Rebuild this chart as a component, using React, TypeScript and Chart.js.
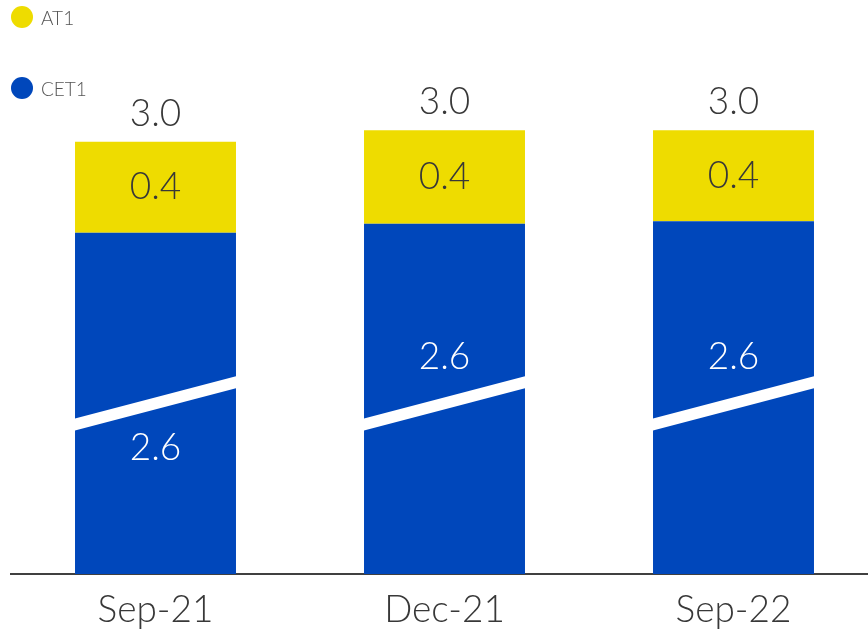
import React, { useEffect, useRef } from 'react';
import { Chart, registerables } from 'chart.js';

Chart.register(...registerables);

const categories = ['Sep-21', 'Dec-21', 'Sep-22'];
const cet1Values = [2.56, 2.6, 2.61];
const at1Values = [0.4, 0.41, 0.4];
const seriesNames = ['CET1', 'AT1'];
const seriesColors = ['#0047BB', '#EEDC00'];
// y-axis is broken: the visible scale starts above zero
const axisMin = 1.06;
const axisMax = 3.583;
const axisBreakValue = 1.81;
const cet1LabelSide = ['below', 'above', 'above'];

const TEXT_DARK = '#383838';
const FONT_FAMILY = 'Lato, "Open Sans", sans-serif';
const CANVAS_W = 878;
const VIEW_W = 868;
const VIEW_H = 631;

const labelsPlugin = {
  id: 'barLabels',
  afterDatasetsDraw(chart: any) {
    const ctx = chart.ctx;
    const yScale = chart.scales.y;
    const m0 = chart.getDatasetMeta(0);
    const m1 = chart.getDatasetMeta(1);
    const yc = yScale.getPixelForValue(axisBreakValue);
    ctx.save();
    m0.data.forEach((bar: any, i: number) => {
      const left = bar.x - bar.width / 2;
      const right = bar.x + bar.width / 2;
      const half = bar.width * 0.1313;
      const th = 6;
      // axis break band
      ctx.fillStyle = '#ffffff';
      ctx.beginPath();
      ctx.moveTo(left, yc + half - th);
      ctx.lineTo(right, yc - half - th);
      ctx.lineTo(right, yc - half + th);
      ctx.lineTo(left, yc + half + th);
      ctx.closePath();
      ctx.fill();

      ctx.textAlign = 'center';
      ctx.textBaseline = 'middle';
      ctx.font = `300 37px ${FONT_FAMILY}`;
      // CET1 label
      ctx.fillStyle = '#ffffff';
      const ly = cet1LabelSide[i] === 'below' ? yc + 45 : yc - 46;
      ctx.fillText(cet1Values[i].toFixed(1), bar.x, ly);
      // AT1 label
      const b1 = m1.data[i];
      ctx.fillStyle = TEXT_DARK;
      ctx.fillText(at1Values[i].toFixed(1), b1.x, (b1.y + b1.base) / 2);
      // total
      const total = cet1Values[i] + at1Values[i];
      ctx.fillText(total.toFixed(1), b1.x, b1.y - 28);
    });
    ctx.restore();
  },
};

export default function App() {
  const ref = useRef<HTMLCanvasElement | null>(null);
  useEffect(() => {
    if (!ref.current) return;
    const chart = new Chart(ref.current, {
      type: 'bar',
      data: {
        labels: categories,
        datasets: [
          {
            label: seriesNames[0],
            data: cet1Values,
            backgroundColor: seriesColors[0],
            borderWidth: 0,
            clip: 0,
          } as any,
          {
            label: seriesNames[1],
            data: at1Values,
            backgroundColor: seriesColors[1],
            borderWidth: 0,
            clip: 0,
          } as any,
        ],
      },
      options: {
        responsive: false,
        animation: false,
        devicePixelRatio: 1,
        layout: { padding: { left: 11, right: 0, top: 0, bottom: 0 } },
        datasets: { bar: { barPercentage: 0.557, categoryPercentage: 1 } },
        plugins: { legend: { display: false }, tooltip: { enabled: false } },
        scales: {
          x: {
            stacked: true,
            z: 1,
            grid: { display: false, drawTicks: false },
            border: { display: true, color: '#404040', width: 2 },
            ticks: {
              color: TEXT_DARK,
              padding: 14,
              font: { family: FONT_FAMILY, size: 37, weight: '300' as any },
            },
            afterFit: (s: any) => {
              s.height = 57;
            },
          },
          y: {
            stacked: true,
            display: false,
            min: axisMin,
            max: axisMax,
          },
        },
      },
      plugins: [labelsPlugin],
    });
    return () => chart.destroy();
  }, []);

  const legendItems = [
    { name: seriesNames[1], color: seriesColors[1], top: 6 },
    { name: seriesNames[0], color: seriesColors[0], top: 77 },
  ];

  return (
    <div style={{ position: 'absolute', left: 0, top: 0, width: VIEW_W, height: VIEW_H, overflow: 'hidden' }}>
      <canvas ref={ref} width={CANVAS_W} height={VIEW_H} style={{ display: 'block', width: CANVAS_W, height: VIEW_H }} />
      {legendItems.map((it) => (
        <div
          key={it.name}
          style={{
            position: 'absolute',
            left: 11,
            top: it.top,
            height: 22,
            display: 'flex',
            alignItems: 'center',
            fontFamily: FONT_FAMILY,
            fontSize: 19,
            fontWeight: 300,
            color: '#555555',
          }}
        >
          <span
            style={{
              display: 'inline-block',
              width: 22,
              height: 22,
              borderRadius: '50%',
              background: it.color,
              marginRight: 8,
            }}
          />
          <span>{it.name}</span>
        </div>
      ))}
    </div>
  );
}
